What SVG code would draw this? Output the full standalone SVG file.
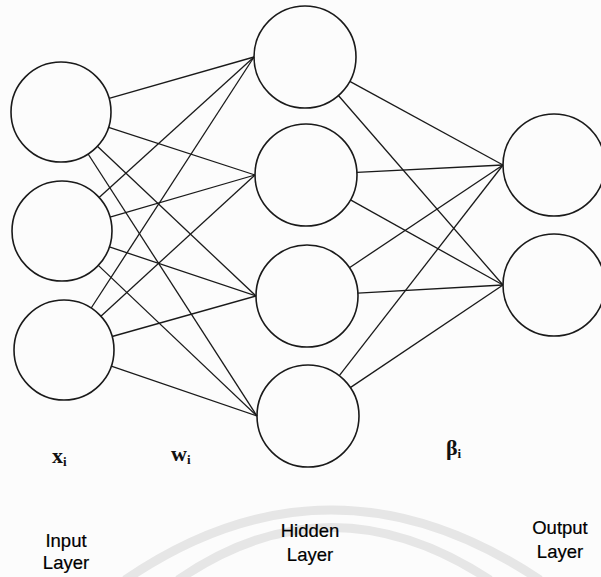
<svg xmlns="http://www.w3.org/2000/svg" width="601" height="577" viewBox="0 0 601 577">
<style>
.node{fill:none;stroke:#1a1a1a;stroke-width:1.6}
.edge{stroke:#1a1a1a;stroke-width:1.3;fill:none}
.sym{font-family:"Liberation Serif",serif;font-weight:bold;fill:#111}
.lbl{font-family:"Liberation Sans",Arial,sans-serif;font-size:18.5px;fill:#000;text-anchor:middle;stroke:#000;stroke-width:0.2}
.wm{fill:none;stroke:#e6e6e6;stroke-width:9}
</style>
<rect width="601" height="577" fill="#fcfcfc"/>
<g id="watermark">
<path class="wm" d="M125,580 Q330,440 540,580"/>
<path class="wm" d="M178,580 Q330,475 490,580"/>
</g>
<g id="connectors">
<line class="edge" x1="109.1" y1="98.3" x2="254" y2="57"/>
<line class="edge" x1="108.6" y1="127.4" x2="255" y2="175"/>
<line class="edge" x1="97.4" y1="146.3" x2="256" y2="296"/>
<line class="edge" x1="88.1" y1="154" x2="257" y2="416"/>
<line class="edge" x1="99.1" y1="197.4" x2="254" y2="57"/>
<line class="edge" x1="110" y1="217.1" x2="255" y2="175"/>
<line class="edge" x1="109.4" y1="246.9" x2="256" y2="296"/>
<line class="edge" x1="98.3" y1="265.4" x2="257" y2="416"/>
<line class="edge" x1="91.2" y1="308" x2="254" y2="57"/>
<line class="edge" x1="100.9" y1="316.2" x2="255" y2="175"/>
<line class="edge" x1="112.1" y1="336.5" x2="256" y2="296"/>
<line class="edge" x1="111.3" y1="366.2" x2="257" y2="416"/>
<line class="edge" x1="349.8" y1="81.4" x2="503" y2="165"/>
<line class="edge" x1="338.4" y1="95.5" x2="503" y2="285"/>
<line class="edge" x1="356.9" y1="172.4" x2="503" y2="165"/>
<line class="edge" x1="350.5" y1="199.9" x2="503" y2="285"/>
<line class="edge" x1="349.4" y1="267.7" x2="503" y2="165"/>
<line class="edge" x1="357.9" y1="293.1" x2="503" y2="285"/>
<line class="edge" x1="339.3" y1="375.7" x2="503" y2="165"/>
<line class="edge" x1="350.3" y1="387.6" x2="503" y2="285"/>
</g>
<g id="input1"><circle class="node" cx="61" cy="112" r="50"/></g>
<g id="input2"><circle class="node" cx="62" cy="231" r="50"/></g>
<g id="input3"><circle class="node" cx="64" cy="350" r="50"/></g>
<g id="hidden1"><circle class="node" cx="305" cy="57" r="51"/></g>
<g id="hidden2"><circle class="node" cx="306" cy="175" r="51"/></g>
<g id="hidden3"><circle class="node" cx="307" cy="296" r="51"/></g>
<g id="hidden4"><circle class="node" cx="308" cy="416" r="51"/></g>
<g id="output1"><circle class="node" cx="554" cy="165" r="51"/></g>
<g id="output2"><circle class="node" cx="554" cy="285" r="51"/></g>
<g id="symbols">
<text class="sym" x="52" y="463" font-size="22">x<tspan font-size="13" dy="3">i</tspan></text>
<text class="sym" x="171" y="461" font-size="22">w<tspan font-size="13" dy="3">i</tspan></text>
<text class="sym" x="446" y="455" font-size="22" font-weight="normal">β<tspan font-size="13" dy="3" font-weight="bold">i</tspan></text>
</g>
<g id="labels">
<text class="lbl" x="66" y="547">Input</text>
<text class="lbl" x="66" y="569">Layer</text>
<text class="lbl" x="310" y="537">Hidden</text>
<text class="lbl" x="310" y="561">Layer</text>
<text class="lbl" x="560" y="534">Output</text>
<text class="lbl" x="560" y="558">Layer</text>
</g>
</svg>
